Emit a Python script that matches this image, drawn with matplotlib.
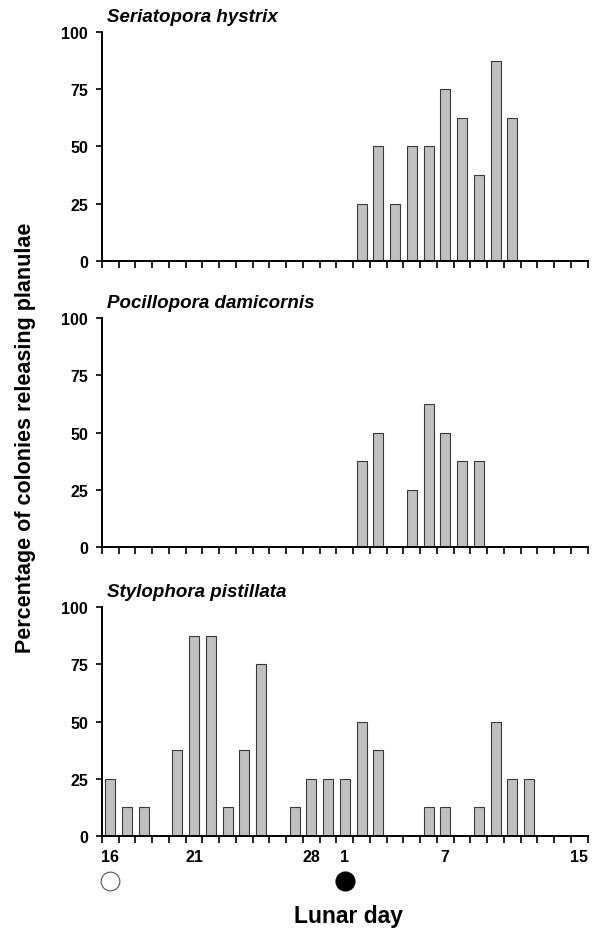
import numpy as np
import matplotlib
matplotlib.use("Agg")
import matplotlib.pyplot as plt
from matplotlib.transforms import blended_transform_factory

plt.rcParams['font.family'] = ['Liberation Sans', 'DejaVu Sans']
plt.rcParams['font.weight'] = 'bold'

# lunar days 16..29 then 1..15
lunar_days = list(range(16, 30)) + list(range(1, 16))
labelled_days = [16, 21, 28, 1, 7, 15]

seriatopora = [0, 0, 0, 0, 0, 0, 0, 0, 0, 0, 0, 0, 0, 0, 0,
               25, 50, 25, 50, 50, 75, 62.5, 37.5, 87.5, 62.5, 0, 0, 0, 0]
pocillopora = [0, 0, 0, 0, 0, 0, 0, 0, 0, 0, 0, 0, 0, 0, 0,
               37.5, 50, 0, 25, 62.5, 50, 37.5, 37.5, 0, 0, 0, 0, 0, 0]
stylophora = [25, 12.5, 12.5, 0, 37.5, 87.5, 87.5, 12.5, 37.5, 75, 0, 12.5, 25, 25,
              25, 50, 37.5, 0, 0, 12.5, 12.5, 0, 12.5, 50, 25, 25, 0, 0, 0]

species = ["Seriatopora hystrix", "Pocillopora damicornis", "Stylophora pistillata"]
series = [seriatopora, pocillopora, stylophora]

fig = plt.figure(figsize=(5.96, 9.29), dpi=100)
bottoms = [0.718, 0.410, 0.099]
x = np.arange(len(lunar_days))

for i, (name, vals) in enumerate(zip(species, series)):
    ax = fig.add_axes([0.171, bottoms[i], 0.815, 0.2465])
    ax.bar(x, vals, width=0.6, color='#c0c0c0', edgecolor='#3a3a3a', linewidth=0.8)
    ax.set_xlim(-0.5, len(lunar_days) - 0.5)
    ax.set_ylim(0, 100)
    ax.set_yticks([0, 25, 50, 75, 100])
    for s in ['top', 'right']:
        ax.spines[s].set_visible(False)
    for s in ['left', 'bottom']:
        ax.spines[s].set_linewidth(1.4)
    ax.tick_params(axis='y', direction='out', length=4, width=1.2, pad=6, labelsize=11.5)
    ax.set_xticks(np.arange(len(lunar_days) + 1) - 0.5)
    ax.set_xticklabels([])
    ax.tick_params(axis='x', which='major', direction='out', length=5, width=1.2)
    if i == 2:
        pos = [lunar_days.index(d) for d in labelled_days]
        ax.set_xticks(pos, minor=True)
        ax.set_xticklabels([str(d) for d in labelled_days], minor=True)
        ax.tick_params(axis='x', which='minor', length=0, pad=9, labelsize=11.5)
        trans = blended_transform_factory(ax.transData, ax.transAxes)
        ax.plot([lunar_days.index(16)], [-0.196], marker='o', markersize=13.5,
                markerfacecolor='white', markeredgecolor='#555555', markeredgewidth=0.8,
                transform=trans, clip_on=False)
        ax.plot([lunar_days.index(1)], [-0.196], marker='o', markersize=13.5,
                markerfacecolor='black', markeredgecolor='black',
                transform=trans, clip_on=False)
    else:
        ax.tick_params(axis='x', which='minor', length=0)
    ax.text(0.01, 1.03, name, transform=ax.transAxes, fontsize=13.5,
            fontstyle='italic', fontweight='bold', ha='left', va='bottom')

fig.text(0.042, 0.5285, "Percentage of colonies releasing planulae", rotation=90,
         ha='center', va='center', fontsize=15.5, fontweight='bold')
fig.text(0.584, 0.006, "Lunar day", ha='center', va='baseline', fontsize=16.5, fontweight='bold')

fig.savefig("out.png", dpi=100)
